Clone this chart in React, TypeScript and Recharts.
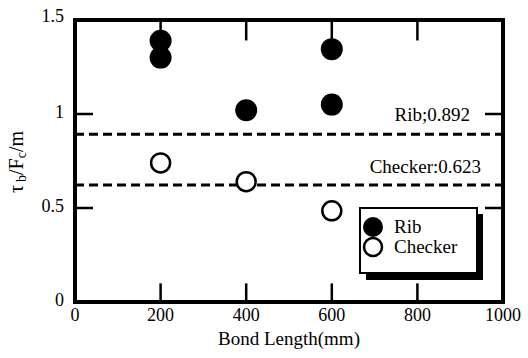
import React from 'react';
import {
  ScatterChart, Scatter, XAxis, YAxis, ReferenceLine, Legend,
} from 'recharts';

const ribLength = [200, 200, 400, 600, 600];
const ribRatio = [1.39, 1.3, 1.02, 1.345, 1.05];
const checkerLength = [200, 400, 600];
const checkerRatio = [0.74, 0.64, 0.485];
const xTicks = [0, 200, 400, 600, 800, 1000];
const xInnerTicks = [200, 400, 600, 800];
const yTicks = [0, 0.5, 1, 1.5];
const yInnerTicks = [0.5, 1];
const yTickLabels = ['0', '0.5', '1', '1.5'];
const ribMean = 0.892;
const checkerMean = 0.623;
const ribMeanLabel = 'Rib;0.892';
const checkerMeanLabel = 'Checker:0.623';
const seriesNames = ['Rib', 'Checker'];
const xTitle = 'Bond Length(mm)';

const X_MIN = 0;
const X_MAX = 1000;
const Y_MIN = 0;
const Y_MAX = 1.5;

const ribData = ribLength.map((x, i) => ({ x, y: ribRatio[i] }));
const checkerData = checkerLength.map((x, i) => ({ x, y: checkerRatio[i] }));

const FONT = '"Liberation Serif", "DejaVu Serif", serif';

const W = 528;
const H = 358;
const MARGIN = { top: 20, right: 25, bottom: 26, left: 0 };
const X_AXIS_H = 30;
const Y_AXIS_W = 75;
const PLOT = {
  left: MARGIN.left + Y_AXIS_W,
  top: MARGIN.top,
  right: W - MARGIN.right,
  bottom: H - MARGIN.bottom - X_AXIS_H,
};
const px = (v: number) => PLOT.left + ((v - X_MIN) / (X_MAX - X_MIN)) * (PLOT.right - PLOT.left);
const py = (v: number) => PLOT.bottom - ((v - Y_MIN) / (Y_MAX - Y_MIN)) * (PLOT.bottom - PLOT.top);

// inward tick-mark lengths as fractions of the axis span (style only)
const yTickLen = (Y_MAX - Y_MIN) * 0.066;
const xTickLen = (X_MAX - X_MIN) * 0.042;

const bottomTickSegs = xInnerTicks.map((v) => [{ x: v, y: Y_MIN }, { x: v, y: Y_MIN + yTickLen }]);
const topTickSegs = xInnerTicks.map((v) => [{ x: v, y: Y_MAX }, { x: v, y: Y_MAX - yTickLen * 1.1 }]);
const leftTickSegs = yInnerTicks.map((v) => [{ x: X_MIN, y: v }, { x: X_MIN + xTickLen, y: v }]);
const rightTickSegs = yInnerTicks.map((v) => [{ x: X_MAX, y: v }, { x: X_MAX - xTickLen, y: v }]);
const allTickSegs = [...bottomTickSegs, ...topTickSegs, ...leftTickSegs, ...rightTickSegs];

const BottomTick = (p: any) => (
  <text x={p.x} y={p.y} dy="0.78em" textAnchor="middle" fontSize={18} fontFamily={FONT} fill="#000">{p.payload.value}</text>
);

const LeftTick = (p: any) => {
  const v = p.payload.value;
  return (
    <text x={p.x} y={p.y} dy={v === 1.5 ? '0.1em' : '0.2em'} textAnchor="end" fontSize={18} fontFamily={FONT} fill="#000">
      {yTickLabels[yTicks.indexOf(v)]}
    </text>
  );
};

const RibDot = (p: any) => <circle cx={p.cx} cy={p.cy} r={11} fill="#000" />;
const CheckerDot = (p: any) => <circle cx={p.cx} cy={p.cy} r={9.5} fill="#fff" stroke="#000" strokeWidth={2.5} />;

const LegendBox = () => (
  <svg width={128} height={76} style={{ display: 'block' }}>
    <rect x={7} y={7} width={117} height={66} fill="#000" />
    <rect x={1} y={1} width={117} height={65} fill="#fff" stroke="#000" strokeWidth={2} />
    <circle cx={14} cy={20} r={10} fill="#000" />
    <circle cx={14} cy={40} r={9} fill="#fff" stroke="#000" strokeWidth={2.5} />
    <text x={35} y={26} fontSize={19} fontFamily={FONT} fill="#000">{seriesNames[0]}</text>
    <text x={35} y={46} fontSize={19} fontFamily={FONT} fill="#000">{seriesNames[1]}</text>
  </svg>
);

const LEGEND_CONTENT = <LegendBox />;
const X_DOMAIN = [X_MIN, X_MAX];
const Y_DOMAIN = [Y_MIN, Y_MAX];
const LEGEND_STYLE = { left: 359, top: 207, width: 128, height: 76 };

// Frame, inward ticks and annotation texts drawn on top of the chart
const Overlay = () => {
  const yc = 162;
  const xc = 23;
  return (
    <svg width={W} height={H} style={{ position: 'absolute', left: 0, top: 0, pointerEvents: 'none' }}>
      <rect x={PLOT.left} y={PLOT.top} width={PLOT.right - PLOT.left} height={PLOT.bottom - PLOT.top} fill="none" stroke="#000" strokeWidth={4} />
      {allTickSegs.map((s, i) => (
        <line key={i} x1={px(s[0].x)} y1={py(s[0].y)} x2={px(s[1].x)} y2={py(s[1].y)} stroke="#000" strokeWidth={2.5} />
      ))}
      <text x={PLOT.right - 33} y={py(ribMean) - 13} textAnchor="end" fontSize={19} fontFamily={FONT} fill="#000">{ribMeanLabel}</text>
      <text x={PLOT.right - 22} y={py(checkerMean) - 12} textAnchor="end" fontSize={19} fontFamily={FONT} fill="#000">{checkerMeanLabel}</text>
      <text x={(PLOT.left + PLOT.right) / 2} y={345} textAnchor="middle" fontSize={19} fontFamily={FONT} fill="#000">{xTitle}</text>
      <text x={xc} y={yc} transform={`rotate(-90 ${xc} ${yc})`} textAnchor="middle" fontSize={20} fontFamily={FONT} fill="#000">
        <tspan>τ</tspan>
        <tspan fontSize={14} dy={3} dx={3}>b</tspan>
        <tspan dy={-3}>/F</tspan>
        <tspan fontSize={14} dy={3}>c</tspan>
        <tspan dy={-3}>/m</tspan>
      </text>
    </svg>
  );
};

export default function App() {
  return (
    <div style={{ position: 'absolute', left: 0, top: 0, width: W, height: H }}>
      <ScatterChart width={W} height={H} margin={MARGIN}>
        <XAxis xAxisId="x" dataKey="x" type="number" domain={X_DOMAIN} ticks={xTicks} height={X_AXIS_H}
          tickSize={0} tickMargin={5} tickLine={false} axisLine={false} tick={BottomTick} interval={0} />
        <YAxis yAxisId="y" dataKey="y" type="number" domain={Y_DOMAIN} ticks={yTicks} width={Y_AXIS_W}
          tickSize={0} tickMargin={11} tickLine={false} axisLine={false} tick={LeftTick} interval={0} />

        <ReferenceLine xAxisId="x" yAxisId="y" y={Y_MAX} stroke="#000" strokeWidth={4} ifOverflow="visible" />
        <ReferenceLine xAxisId="x" yAxisId="y" y={Y_MIN} stroke="#000" strokeWidth={4} ifOverflow="visible" />
        <ReferenceLine xAxisId="x" yAxisId="y" x={X_MIN} stroke="#000" strokeWidth={4} ifOverflow="visible" />
        <ReferenceLine xAxisId="x" yAxisId="y" x={X_MAX} stroke="#000" strokeWidth={4} ifOverflow="visible" />

        <ReferenceLine xAxisId="x" yAxisId="y" y={ribMean} stroke="#000" strokeWidth={3} strokeDasharray="9 5" />
        <ReferenceLine xAxisId="x" yAxisId="y" y={checkerMean} stroke="#000" strokeWidth={3} strokeDasharray="9 5" />

        <Scatter name={seriesNames[0]} xAxisId="x" yAxisId="y" data={ribData} fill="#000" shape={RibDot} isAnimationActive={false} />
        <Scatter name={seriesNames[1]} xAxisId="x" yAxisId="y" data={checkerData} fill="#fff" shape={CheckerDot} isAnimationActive={false} />
        <Legend layout="horizontal" verticalAlign="middle" align="center" content={LEGEND_CONTENT} wrapperStyle={LEGEND_STYLE} />
      </ScatterChart>
      <Overlay />
    </div>
  );
}
